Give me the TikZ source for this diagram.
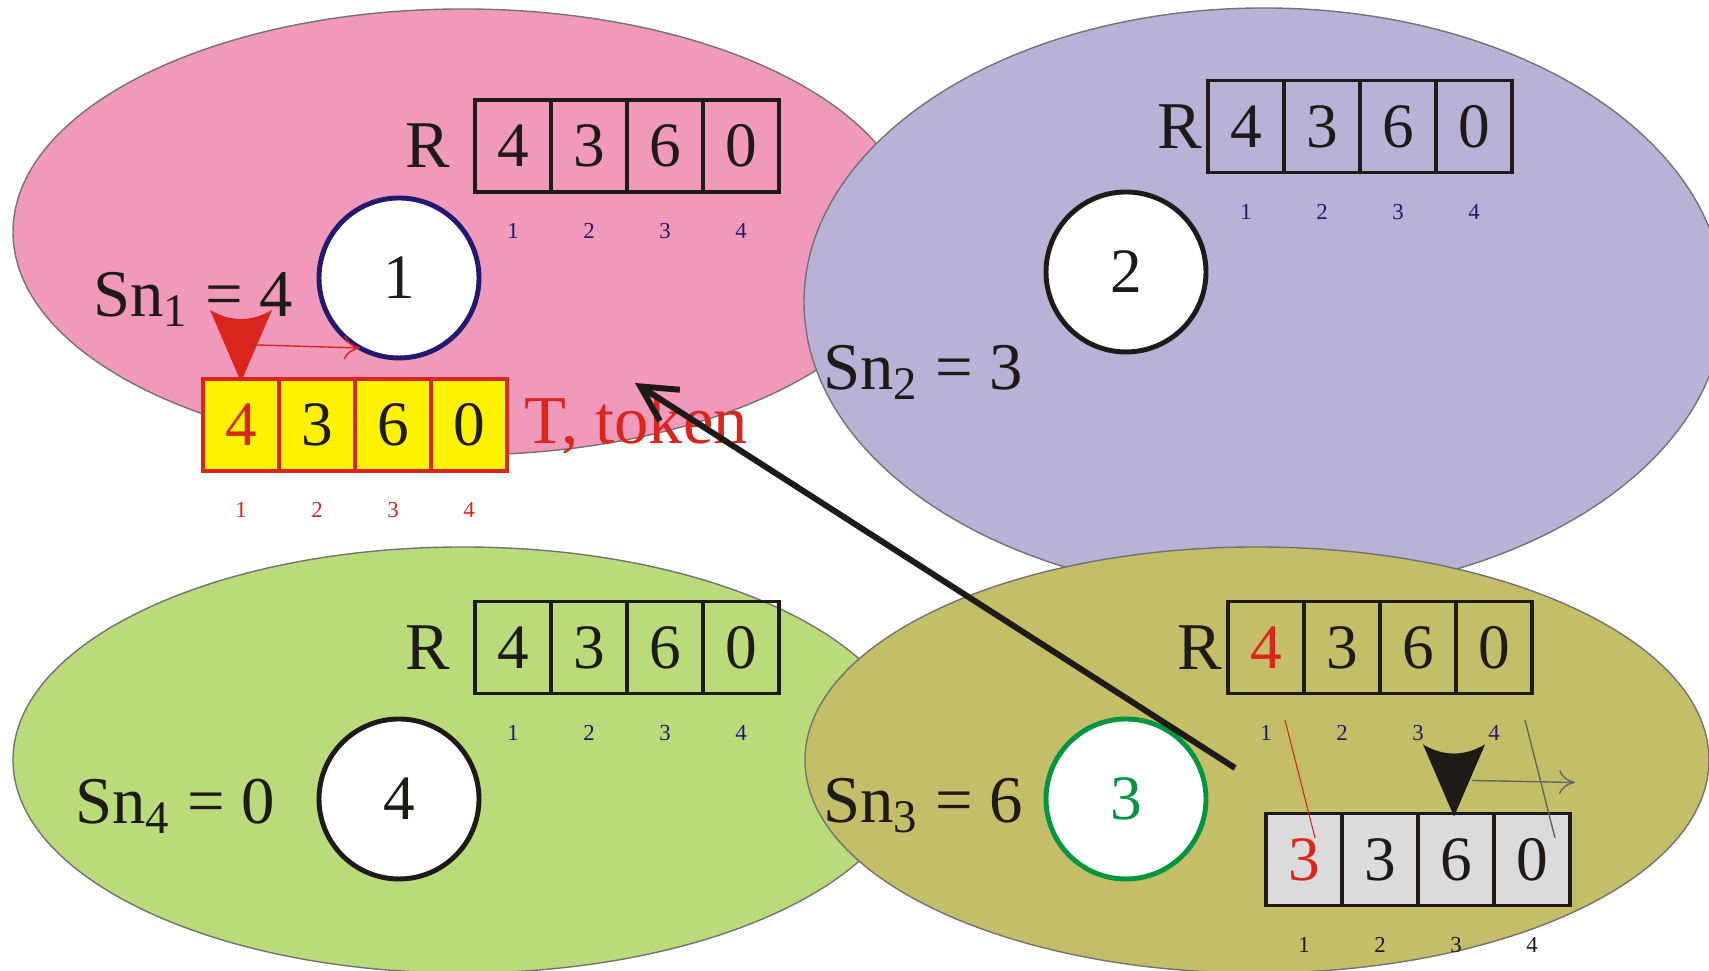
\documentclass[tikz,border=0pt]{standalone}
\usepackage{fontspec}
\setmainfont{Liberation Serif}
\usepackage{xcolor}
\usepackage{tikz}
\usetikzlibrary{arrows.meta,positioning,calc}
\definecolor{pinkbg}{RGB}{240,153,187}
\definecolor{lilacbg}{RGB}{184,178,214}
\definecolor{greenbg}{RGB}{185,219,122}
\definecolor{olivebg}{RGB}{196,190,104}
\definecolor{tokred}{RGB}{218,37,29}
\definecolor{tokyellow}{RGB}{255,242,0}
\definecolor{navyidx}{RGB}{35,25,110}
\definecolor{ringgreen}{RGB}{0,150,64}
\definecolor{inkblack}{RGB}{30,26,24}

\begin{document}
\begin{tikzpicture}[
  area/.style={draw=black!55,line width=0.4pt},
  cell/.style={draw=inkblack,line width=0.9pt,minimum width=7.6mm,minimum height=9.2mm,inner sep=0pt,outer sep=0pt,font=\fontsize{18}{18}\selectfont,text=inkblack},
  tcell/.style={cell,draw=tokred,fill=tokyellow},
  gcell/.style={cell,fill=black!14},
  idx/.style={inner sep=0pt,font=\fontsize{6.5}{7}\selectfont,text=navyidx},
  proc/.style={circle,draw=inkblack,fill=white,line width=1.4pt,minimum size=16mm,font=\fontsize{18}{18}\selectfont,text=inkblack},
  lab/.style={font=\fontsize{19}{19}\selectfont,text=inkblack},
  thinarr/.style={line width=0.4pt,-{To[length=1.6mm,width=2.4mm]}},
  pass/.style={-{Straight Barb[length=3.5mm,width=3.7mm]},line width=1.7pt,draw=inkblack}]
\useasboundingbox (0,0) rectangle (17.09,9.71);
\path[area,fill=pinkbg] (4.63,7.39) ellipse [x radius=4.50,y radius=2.23];
\path[area,fill=lilacbg] (12.64,6.69) ellipse [x radius=4.60,y radius=2.94];
\path[area,fill=greenbg] (4.63,2.11) ellipse [x radius=4.50,y radius=2.13];
\path[area,fill=olivebg] (12.57,2.11) ellipse [x radius=4.52,y radius=2.13];
\node[proc,draw=navyidx] (p1) at (3.99,6.93) {1};
\node[proc] (p2) at (11.26,6.99) {2};
\node[proc,draw=ringgreen,text=ringgreen] (p3) at (11.26,1.72) {3};
\node[proc] (p4) at (3.99,1.72) {4};
\node[lab,left=1.1mm of p1,yshift=-2.1mm] (sn1) {Sn\textsubscript{1} = 4};
\node[lab,left=0.8mm of p2,yshift=-10mm] (sn2) {Sn\textsubscript{2} = 3};
\node[lab,left=0.8mm of p3,yshift=-0.7mm] (sn3) {Sn\textsubscript{3} = 6};
\node[lab,left=2.9mm of p4,yshift=-0.7mm] (sn4) {Sn\textsubscript{4} = 0};
\node[cell] (ra1) at (5.13,8.25) {4};
\node[cell,right=0pt of ra1] (ra2) {3};
\node[cell,right=0pt of ra2] (ra3) {6};
\node[cell,right=0pt of ra3] (ra4) {0};
\node[lab,left=1.3mm of ra1] (lra) {R};
\node[idx,below=3.1mm of ra1] (ia1) {1};
\node[idx,below=3.1mm of ra2] (ia2) {2};
\node[idx,below=3.1mm of ra3] (ia3) {3};
\node[idx,below=3.1mm of ra4] (ia4) {4};
\node[cell] (rb1) at (12.46,8.445) {4};
\node[cell,right=0pt of rb1] (rb2) {3};
\node[cell,right=0pt of rb2] (rb3) {6};
\node[cell,right=0pt of rb3] (rb4) {0};
\node[lab,left=-0.6mm of rb1] (lrb) {R};
\node[idx,below=3.1mm of rb1] (ib1) {1};
\node[idx,below=3.1mm of rb2] (ib2) {2};
\node[idx,below=3.1mm of rb3] (ib3) {3};
\node[idx,below=3.1mm of rb4] (ib4) {4};
\node[cell,text=tokred] (rc1) at (12.66,3.235) {4};
\node[cell,right=0pt of rc1] (rc2) {3};
\node[cell,right=0pt of rc2] (rc3) {6};
\node[cell,right=0pt of rc3] (rc4) {0};
\node[lab,left=-0.6mm of rc1] (lrc) {R};
\node[idx,below=3.1mm of rc1] (ic1) {1};
\node[idx,below=3.1mm of rc2] (ic2) {2};
\node[idx,below=3.1mm of rc3] (ic3) {3};
\node[idx,below=3.1mm of rc4] (ic4) {4};
\node[cell] (rd1) at (5.13,3.235) {4};
\node[cell,right=0pt of rd1] (rd2) {3};
\node[cell,right=0pt of rd2] (rd3) {6};
\node[cell,right=0pt of rd3] (rd4) {0};
\node[lab,left=1.3mm of rd1] (lrd) {R};
\node[idx,below=3.1mm of rd1] (id1) {1};
\node[idx,below=3.1mm of rd2] (id2) {2};
\node[idx,below=3.1mm of rd3] (id3) {3};
\node[idx,below=3.1mm of rd4] (id4) {4};
\node[tcell,text=tokred] (tk1) at (2.41,5.46) {4};
\node[tcell,right=0pt of tk1] (tk2) {3};
\node[tcell,right=0pt of tk2] (tk3) {6};
\node[tcell,right=0pt of tk3] (tk4) {0};
\node[lab,text=tokred,right=0.5mm of tk4,font=\fontsize{19.5}{19.5}\selectfont] (tkn) {T, token};
\node[idx,text=tokred,below=3.1mm of tk1] (it1) {1};
\node[idx,text=tokred,below=3.1mm of tk2] (it2) {2};
\node[idx,text=tokred,below=3.1mm of tk3] (it3) {3};
\node[idx,text=tokred,below=3.1mm of tk4] (it4) {4};
\node[gcell,text=tokred] (gc1) at (13.04,1.115) {3};
\node[gcell,right=0pt of gc1] (gc2) {3};
\node[gcell,right=0pt of gc2] (gc3) {6};
\node[gcell,right=0pt of gc3] (gc4) {0};
\node[idx,text=inkblack,below=3.1mm of gc1] (ig1) {1};
\node[idx,text=inkblack,below=3.1mm of gc2] (ig2) {2};
\node[idx,text=inkblack,below=3.1mm of gc3] (ig3) {3};
\node[idx,text=inkblack,below=3.1mm of gc4] (ig4) {4};
\coordinate (mk1) at ($(tk1.north)+(0,-0.03)$);
\coordinate (mk3) at ($(gc3.north)+(-0.02,-0.03)$);
\draw[thinarr,tokred] ($(mk1)+(0.16,0.37)$) -- ++(1.03,-0.03);
\fill[tokred] (mk1) -- ++(-0.31,0.72) to[bend right=30] ++(0.62,0) -- cycle;
\draw[tokred,line width=0.3pt] (12.85,2.51) -- (13.15,1.33);
\draw[black!60,line width=0.4pt] (15.25,2.51) -- (15.55,1.33);
\draw[thinarr,black!60] ($(mk3)+(0.18,0.36)$) -- ++(1.03,-0.02);
\fill[inkblack] (mk3) -- ++(-0.31,0.72) to[bend right=30] ++(0.62,0) -- cycle;
\coordinate (src) at (12.35,2.03);
\coordinate (dst) at (6.35,5.88);
\draw[pass] (src) -- (dst);
\end{tikzpicture}
\end{document}
